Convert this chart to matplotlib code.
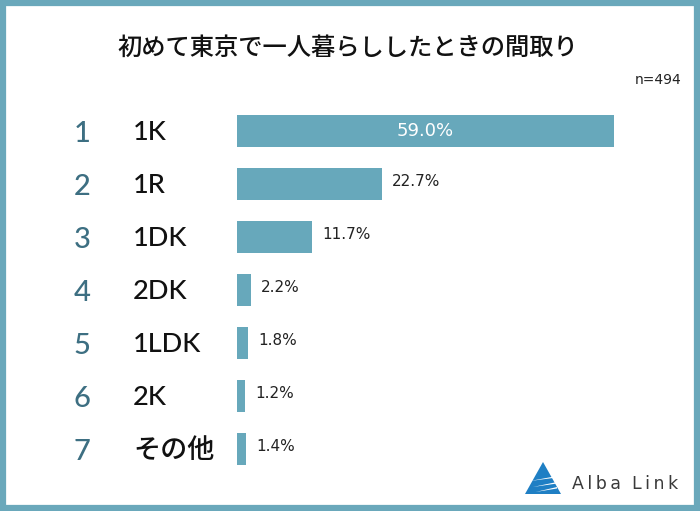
import matplotlib.pyplot as plt
from matplotlib.patches import Rectangle, Polygon
from matplotlib.transforms import blended_transform_factory

plt.rcParams['font.family'] = ['Noto Sans CJK JP', 'DejaVu Sans']

ranks = ['1', '2', '3', '4', '5', '6', '7']
labels = ['1K', '1R', '1DK', '2DK', '1LDK', '2K', 'その他']
values = [59.0, 22.7, 11.7, 2.2, 1.8, 1.2, 1.4]

W, H = 700, 511
fig = plt.figure(figsize=(W / 100, H / 100), dpi=100)

# axes: x from px 237, 6.39 px per %, rows 53 px apart
ax = fig.add_axes([237 / W, 1 - 475.5 / H, 447 / W, 371 / H])
ax.set_xlim(0, 70)
ax.set_ylim(6.5, -0.5)
ax.axis('off')

bar_color = '#67a8bb'
ypos = list(range(len(values)))
ax.barh(ypos, values, height=0.62, color=bar_color)

latin = ['Lato', 'Noto Sans CJK JP']
tr = blended_transform_factory(fig.transFigure, ax.transData)
for i, (r, lab, v) in enumerate(zip(ranks, labels, values)):
    ax.text(82 / W, i + 0.05, r, transform=tr, ha='center', va='center',
            fontsize=21, color='#3d6f82', fontweight='medium', family=latin)
    ax.text(133 / W, i + 0.03, lab, transform=tr, ha='left', va='center',
            fontsize=19.5, color='#111111', fontweight='medium', family=latin)
    if i == 0:
        ax.text(v / 2, i, f'{v:.1f}%', ha='center', va='center',
                fontsize=13, color='white', family='DejaVu Sans')
    else:
        ax.text(v + 1.6, i - 0.05, f'{v:.1f}%', ha='left', va='center',
                fontsize=11, color='#222222', family='DejaVu Sans')

fig.text(348 / W, 1 - 48 / H, '初めて東京で一人暮らししたときの間取り',
         ha='center', va='center', fontsize=17.5, color='#111111',
         fontweight='medium')
fig.text(682 / W, 1 - 80 / H, 'n=494', ha='right', va='center',
         fontsize=10, color='#222222', family='DejaVu Sans')

# logo
fig.text(572 / W, 1 - 484 / H, 'A\u2009l\u2009b\u2009a  L\u2009i\u2009n\u2009k',
         ha='left', va='center', fontsize=12.5, color='#3a3a3a',
         family='DejaVu Sans')
tri = Polygon([(543 / W, 1 - 462 / H), (525 / W, 1 - 494 / H), (561 / W, 1 - 494 / H)],
              closed=True, transform=fig.transFigure, facecolor='#1f7fc4',
              edgecolor='none')
fig.add_artist(tri)
for k, y in enumerate([478, 484, 489]):
    fig.add_artist(Polygon([(530 / W + k * 0.004, 1 - (y + 3) / H), (557 / W, 1 - (y - 2) / H),
                            (557 / W, 1 - (y - 0.5) / H)],
                           closed=True, transform=fig.transFigure,
                           facecolor='white', edgecolor='none'))

# frame
fig.add_artist(Rectangle((0.004, 0.006), 0.992, 0.988, transform=fig.transFigure,
                         fill=False, edgecolor='#6aa8bb', linewidth=4.5))

fig.savefig('out.png', dpi=100)
